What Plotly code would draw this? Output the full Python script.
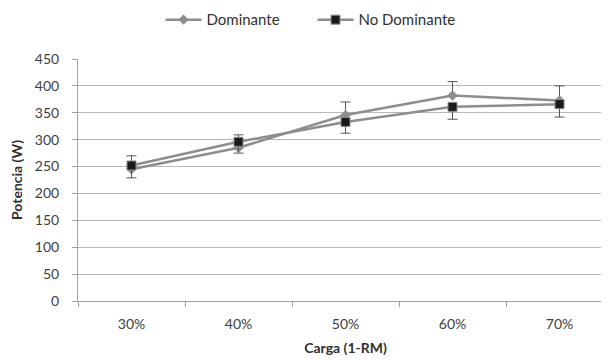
import plotly.graph_objects as go

categories = ["30%", "40%", "50%", "60%", "70%"]
dominante = [245, 285, 346, 382, 373]
dominante_err_plus = [25, 24, 24, 26, 27]
no_dominante = [252, 296, 333, 361, 366]
no_dominante_err_minus = [23, 21, 21, 23, 24]
y_ticks = [0, 50, 100, 150, 200, 250, 300, 350, 400, 450]

font_family = "Lato, 'Open Sans', sans-serif"
line_gray = "#8d8d8d"

fig = go.Figure()
fig.add_trace(go.Scatter(
    x=categories, y=dominante, name="Dominante", mode="lines+markers",
    line=dict(color=line_gray, width=2.5),
    marker=dict(symbol="diamond", size=8, color=line_gray),
    error_y=dict(type="data", symmetric=False, array=dominante_err_plus,
                 arrayminus=[0] * len(dominante), color="#555555", thickness=1, width=5),
))
fig.add_trace(go.Scatter(
    x=categories, y=no_dominante, name="No Dominante", mode="lines+markers",
    line=dict(color=line_gray, width=2.5),
    marker=dict(symbol="square", size=9, color="#1a1a1a", line=dict(color=line_gray, width=1)),
    error_y=dict(type="data", symmetric=False, array=[0] * len(no_dominante),
                 arrayminus=no_dominante_err_minus, color="#555555", thickness=1, width=5),
))

fig.update_layout(
    width=609, height=360,
    margin=dict(l=70, r=4, t=51, b=67, autoexpand=False),
    paper_bgcolor="white", plot_bgcolor="white",
    font=dict(family=font_family, size=14, color="#404040"),
    showlegend=True,
    legend=dict(orientation="h", x=0.5, xanchor="center", xref="container",
                y=0.967, yanchor="middle", yref="container",
                font=dict(size=15, color="#303030"),
                itemwidth=36, entrywidth=101, entrywidthmode="pixels", traceorder="normal"),
    xaxis=dict(
        type="category", range=[-0.5, 4.5], tickson="boundaries", ticks="outside", ticklen=5,
        tickcolor="#a0a0a0", showgrid=False, showline=True, linecolor="#a0a0a0",
        linewidth=1, zeroline=False, ticklabelstandoff=10,
        title=dict(text="<b>Carga (1-RM)</b>", font=dict(size=14, color="#303030"), standoff=12),
        tickfont=dict(size=14, color="#404040"),
    ),
    yaxis=dict(
        range=[0, 450], tickvals=y_ticks, ticks="outside", ticklen=5,
        tickcolor="#a0a0a0", showgrid=True, gridcolor="#b8b8b8", gridwidth=1,
        showline=True, linecolor="#a0a0a0", linewidth=1, zeroline=False,
        ticklabelstandoff=10,
        title=dict(text="<b>Potencia (W)</b>", font=dict(size=14, color="#303030"), standoff=12),
        tickfont=dict(size=14, color="#404040"),
    ),
)

fig.write_html("out.html")
